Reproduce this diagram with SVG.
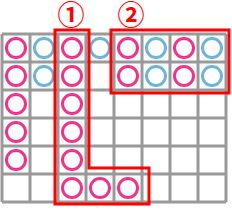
<svg xmlns="http://www.w3.org/2000/svg" width="232" height="210" viewBox="0 0 232 210">
<style>
.g{stroke:#999;stroke-width:3;fill:none}
.p{stroke:#f0338a;stroke-width:3;fill:none}
.b{stroke:#6cb4d9;stroke-width:3;fill:none}
.r{stroke:#ff0000;stroke-width:3;fill:none}
.t{font-family:"Noto Sans CJK JP",sans-serif;font-size:27px;font-weight:bold;fill:#ff0000;text-anchor:middle;dominant-baseline:central}
</style>
<rect width="232" height="210" fill="#fff"/>
<g id="grid" class="g">
<path d="M2 34H226M2 62H226M2 90H226M2 118H226M2 146H226M2 174H226M2 202H226M2 34V202M30 34V202M58 34V202M86 34V202M114 34V202M142 34V202M170 34V202M198 34V202M226 34V202"/>
</g>
<g id="circles">
<circle class="p" cx="16" cy="48" r="9.5"/><circle class="b" cx="44" cy="48" r="9.5"/><circle class="p" cx="72" cy="48" r="9.5"/><circle class="b" cx="100" cy="48" r="9.5"/>
<circle class="p" cx="128" cy="48" r="9.5"/><circle class="b" cx="156" cy="48" r="9.5"/><circle class="p" cx="184" cy="48" r="9.5"/><circle class="b" cx="212" cy="48" r="9.5"/>
<circle class="p" cx="16" cy="76" r="9.5"/><circle class="b" cx="44" cy="76" r="9.5"/><circle class="p" cx="72" cy="76" r="9.5"/>
<circle class="p" cx="128" cy="76" r="9.5"/><circle class="b" cx="156" cy="76" r="9.5"/><circle class="p" cx="184" cy="76" r="9.5"/><circle class="b" cx="212" cy="76" r="9.5"/>
<circle class="p" cx="16" cy="104" r="9.5"/><circle class="p" cx="72" cy="104" r="9.5"/>
<circle class="p" cx="16" cy="132" r="9.5"/><circle class="p" cx="72" cy="132" r="9.5"/>
<circle class="p" cx="16" cy="160" r="9.5"/><circle class="p" cx="72" cy="160" r="9.5"/>
<circle class="p" cx="72" cy="188" r="9.5"/><circle class="p" cx="100" cy="188" r="9.5"/><circle class="p" cx="128" cy="188" r="9.5"/>
</g>
<g id="group1">
<polygon class="r" points="55,30 89,30 89,168 149,168 149,204 55,204"/>
<text class="t" x="71" y="13">①</text>
</g>
<g id="group2">
<rect class="r" x="111" y="30" width="118" height="63"/>
<text class="t" x="131" y="13">②</text>
</g>
</svg>
